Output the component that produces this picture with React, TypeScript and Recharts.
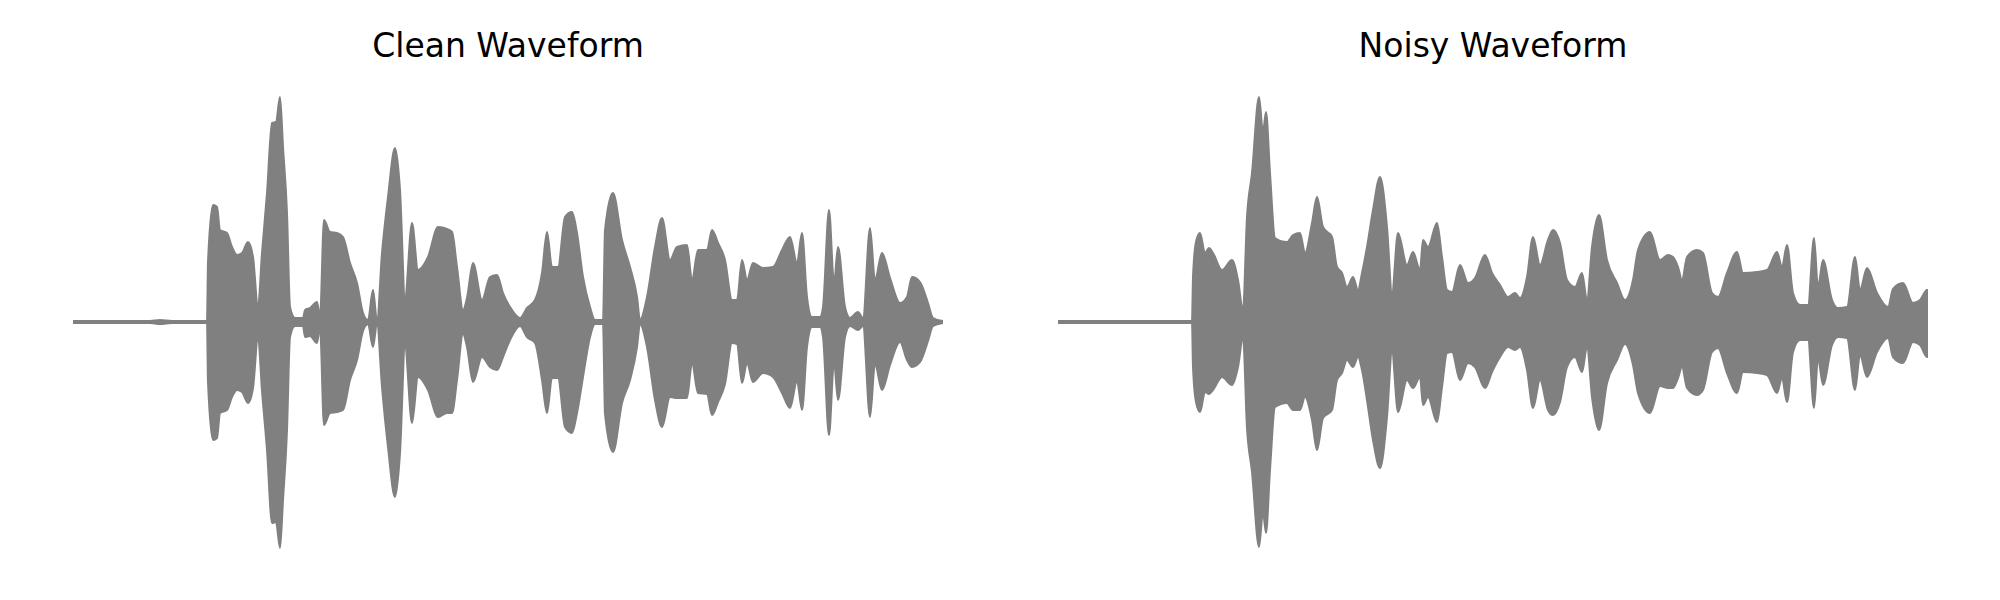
import { ComposedChart, Area, XAxis, YAxis } from 'recharts';

// time in frames, envelope levels read above / below the zero line
const cleanT = [0, 77, 87, 99, 134, 135, 140, 144, 147, 154, 159, 164, 169, 175, 180, 185, 189, 194, 199, 203, 207, 210, 214, 217, 222, 230, 232, 237, 244, 247, 251, 257, 264, 270, 277, 284, 290, 295, 300, 304, 309, 315, 322, 327, 332, 339, 345, 355, 365, 374, 379, 384, 390, 394, 400, 409, 417, 424, 430, 437, 447, 454, 462, 469, 474, 479, 485, 492, 499, 504, 510, 517, 522, 530, 532, 540, 549, 557, 564, 567, 574, 582, 589, 597, 604, 614, 619, 625, 634, 639, 645, 652, 659, 664, 669, 674, 680, 690, 700, 709, 717, 724, 729, 734, 739, 747, 750, 756, 761, 765, 772, 777, 785, 790, 797, 802, 809, 817, 827, 834, 839, 847, 855, 860, 870];
const cleanUpper = [1, 1, 2, 1, 1, 60, 117, 115, 92, 89, 75, 67, 69, 80, 65, 15, 69, 129, 199, 200, 225, 175, 109, 15, 4, 4, 12, 14, 20, 5, 102, 90, 89, 85, 59, 39, 9, 2, 32, 1, 69, 125, 174, 132, 25, 99, 52, 65, 95, 93, 90, 55, 12, 24, 59, 22, 45, 47, 29, 15, 4, 14, 22, 49, 90, 55, 55, 105, 110, 89, 45, 15, 2, 2, 92, 129, 82, 55, 25, 2, 25, 75, 104, 62, 75, 77, 42, 72, 72, 92, 79, 62, 22, 22, 62, 42, 59, 54, 55, 72, 85, 59, 89, 25, 5, 5, 15, 112, 39, 75, 15, 4, 10, 4, 94, 42, 69, 44, 19, 25, 45, 40, 19, 4, 1];
const cleanLower = [1, 1, 2, 1, 1, 60, 118, 116, 91, 88, 75, 68, 70, 81, 66, 15, 69, 128, 201, 200, 226, 178, 108, 15, 4, 4, 15, 14, 21, 5, 103, 91, 90, 88, 58, 38, 9, 2, 25, 1, 65, 125, 175, 131, 25, 101, 55, 68, 95, 91, 91, 58, 12, 25, 60, 35, 45, 48, 35, 18, 4, 15, 21, 58, 91, 56, 56, 105, 111, 91, 55, 15, 2, 2, 92, 130, 81, 58, 25, 2, 25, 78, 105, 75, 76, 76, 41, 71, 72, 93, 80, 62, 21, 22, 61, 41, 60, 51, 55, 71, 86, 59, 88, 25, 5, 5, 15, 113, 40, 78, 15, 4, 8, 4, 95, 42, 68, 43, 20, 38, 45, 40, 19, 4, 1];

const noisyT = [0, 134, 135, 138, 142, 147, 151, 155, 164, 174, 180, 185, 189, 194, 201, 205, 208, 212, 217, 229, 235, 242, 247, 254, 259, 265, 274, 279, 284, 289, 295, 300, 304, 309, 315, 322, 329, 334, 340, 349, 355, 362, 365, 370, 379, 384, 389, 394, 402, 410, 417, 427, 434, 442, 450, 457, 462, 469, 475, 482, 490, 495, 502, 509, 517, 524, 529, 534, 541, 549, 559, 567, 575, 580, 592, 602, 610, 615, 620, 624, 629, 639, 645, 654, 660, 669, 679, 685, 699, 709, 719, 724, 729, 735, 742, 750, 756, 760, 765, 774, 780, 789, 797, 802, 809, 819, 830, 835, 845, 855, 862, 869, 870];
const noisyUpper = [1, 1, 45, 80, 89, 69, 74, 69, 52, 62, 42, 12, 105, 149, 225, 190, 210, 149, 84, 80, 87, 89, 69, 99, 125, 95, 85, 55, 49, 35, 45, 32, 49, 75, 112, 145, 95, 29, 89, 57, 70, 52, 82, 75, 99, 65, 32, 30, 57, 39, 44, 67, 49, 37, 25, 29, 24, 45, 85, 57, 82, 92, 79, 42, 35, 49, 22, 75, 107, 62, 39, 22, 42, 72, 90, 62, 67, 65, 55, 42, 65, 72, 69, 29, 25, 49, 70, 49, 50, 52, 70, 55, 77, 29, 17, 17, 84, 35, 62, 22, 14, 15, 65, 32, 54, 29, 15, 33, 39, 19, 22, 32, 32];
const noisyLower = [1, 1, 45, 80, 90, 70, 72, 68, 55, 63, 45, 15, 106, 150, 225, 190, 211, 148, 85, 81, 88, 88, 75, 98, 128, 96, 88, 58, 51, 38, 45, 35, 48, 78, 118, 146, 95, 30, 90, 58, 66, 55, 83, 75, 100, 65, 31, 30, 58, 41, 45, 66, 50, 35, 25, 28, 25, 48, 86, 58, 88, 93, 80, 45, 35, 50, 25, 75, 108, 61, 38, 22, 43, 71, 91, 64, 66, 66, 56, 45, 66, 73, 68, 30, 26, 51, 71, 50, 51, 53, 71, 56, 80, 30, 18, 18, 86, 36, 63, 23, 15, 16, 68, 33, 55, 30, 16, 35, 41, 20, 23, 35, 35];

const titles = ['Clean Waveform', 'Noisy Waveform'];

const GREY = '#808080';

type Pt = { t: number; hi: number; lo: number };

function toRows(t: number[], up: number[], down: number[]): Pt[] {
  return t.map((v, i) => ({ t: v, hi: up[i], lo: -down[i] }));
}

const panels = [
  { title: titles[0], left: 73, rows: toRows(cleanT, cleanUpper, cleanLower) },
  { title: titles[1], left: 1058, rows: toRows(noisyT, noisyUpper, noisyLower) },
];

function Waveform({ rows }: { rows: Pt[] }) {
  return (
    <ComposedChart width={870} height={500} data={rows} margin={{ top: 0, right: 0, bottom: 0, left: 0 }} style={{ overflow: 'visible' }}>
      <XAxis dataKey='t' type='number' domain={[0, 870]} hide />
      <YAxis type='number' domain={[-250, 250]} hide />
      <Area
        type='monotoneX'
        dataKey={(d: Pt) => [d.lo, d.hi]}
        stroke={GREY}
        strokeWidth={2}
        strokeLinejoin='round'
        fill={GREY}
        fillOpacity={1}
        dot={false}
        activeDot={false}
        isAnimationActive={false}
      />
    </ComposedChart>
  );
}

export default function App() {
  return (
    <div style={{ position: 'absolute', left: 0, top: 0, width: 2000, height: 600, background: '#fff' }}>
      <svg width={2000} height={600} style={{ position: 'absolute', left: 0, top: 0 }}>
        {panels.map((p) => (
          <text key={p.title} x={p.left + 435} y={57} textAnchor='middle' fontFamily='DejaVu Sans' fontSize={33} fill='#000'>
            {p.title}
          </text>
        ))}
      </svg>
      {panels.map((p) => (
        <div key={p.title} style={{ position: 'absolute', left: p.left, top: 72 }}>
          <Waveform rows={p.rows} />
        </div>
      ))}
    </div>
  );
}
